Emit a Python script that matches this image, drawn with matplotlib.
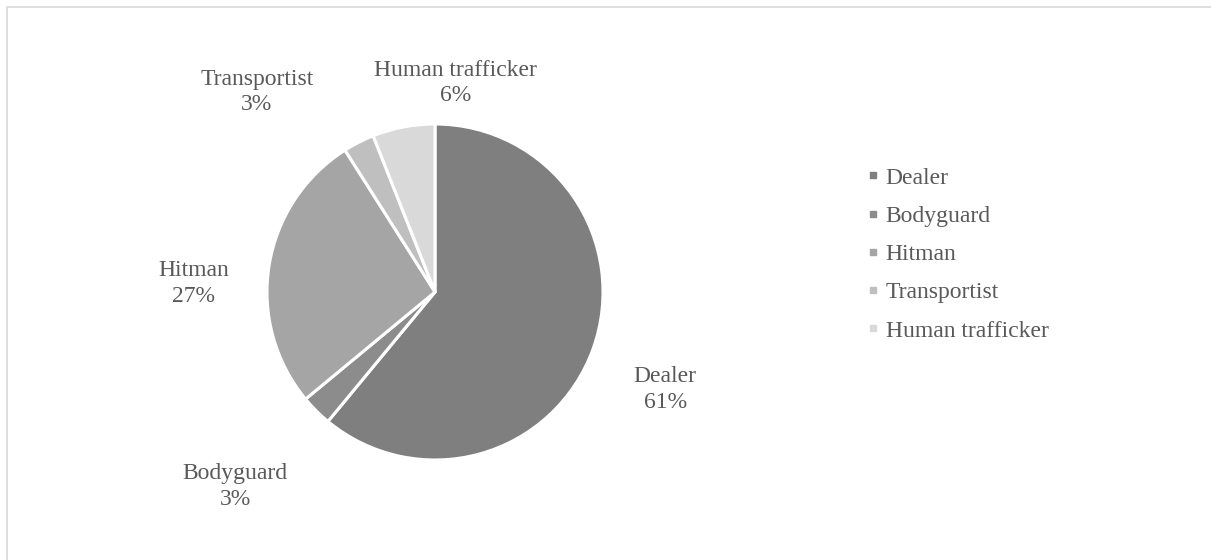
import matplotlib
matplotlib.use("Agg")
import matplotlib.pyplot as plt
from matplotlib.lines import Line2D
from matplotlib.patches import Rectangle

# ── DATA ──────────────────────────────────────────────────────────────────────
roles = ["Dealer", "Bodyguard", "Hitman", "Transportist", "Human trafficker"]
shares = [61, 3, 27, 3, 6]
colors = ["#7f7f7f", "#8c8c8c", "#a5a5a5", "#bfbfbf", "#d9d9d9"]

TEXT = "#595959"
FS = 17
plt.rcParams["font.family"] = ["Liberation Serif", "DejaVu Serif"]

W, H = 1211, 560
fig = plt.figure(figsize=(W / 100, H / 100), dpi=100)

# chart border (Excel style, runs off the right/bottom edges)
fig.patches.append(Rectangle((7 / W, -0.1), 1.2, 1.1 - 7 / H,
                             transform=fig.transFigure, fill=False,
                             edgecolor="#d9d9d9", linewidth=1.2))

# pie axes: centre (435, 292), radius 168 px
cx, cy, r = 435, 292, 168
ax = fig.add_axes([(cx - r) / W, (H - cy - r) / H, 2 * r / W, 2 * r / H])
ax.pie(shares, colors=colors, startangle=90, counterclock=False, radius=1.0,
       wedgeprops=dict(edgecolor="white", linewidth=2.2))
ax.set_xlim(-1, 1)
ax.set_ylim(-1, 1)
ax.set_aspect("equal")
ax.axis("off")

# data labels (best-fit positions, in radius units from centre)
label_pos = [(1.37, -0.58), (-1.19, -1.16), (-1.435, 0.05), (-1.06, 1.19), (0.12, 1.244)]
for name, val, (lx, ly) in zip(roles, shares, label_pos):
    ax.text(lx, ly, f"{name}\n{val}%", ha="center", va="center",
            fontsize=FS, color=TEXT, linespacing=1.3, clip_on=False)

# legend
handles = [Line2D([], [], marker="s", linestyle="none", markersize=5,
                  markerfacecolor=c, markeredgecolor=c) for c in colors]
fig.legend(handles, roles, loc="upper left", bbox_to_anchor=(868 / W, 1 - 167 / H),
           frameon=False, fontsize=FS, labelcolor=TEXT, handlelength=0.45,
           handletextpad=0.3, labelspacing=0.71, borderaxespad=0, borderpad=0)

fig.savefig("out.png", dpi=100)
